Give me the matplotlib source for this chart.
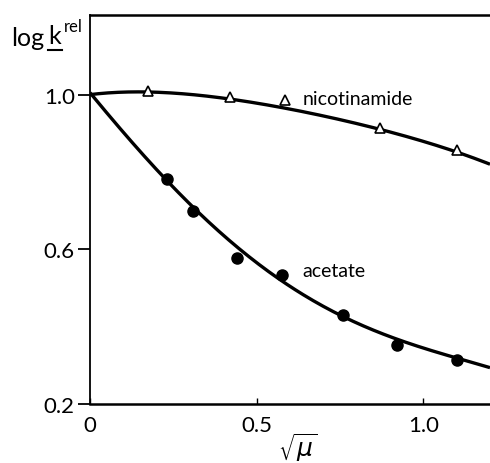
import matplotlib
matplotlib.use("Agg")
import matplotlib.pyplot as plt
import numpy as np
from matplotlib.lines import Line2D

plt.rcParams['font.family'] = ['Lato', 'DejaVu Sans']

# data points
nic_x = [0.175, 0.42, 0.585, 0.871, 1.10]
nic_y = [1.01, 0.995, 0.985, 0.915, 0.858]
ace_x = [0.23, 0.31, 0.44, 0.577, 0.76, 0.92, 1.10]
ace_y = [0.783, 0.698, 0.577, 0.533, 0.430, 0.352, 0.313]

# fitted curves
curve_x = [0.0, 0.1, 0.2, 0.3, 0.4, 0.5, 0.6, 0.7, 0.8, 0.9, 1.0, 1.1, 1.2]
nic_curve = [1.0, 1.007, 1.006, 1.0, 0.992, 0.978, 0.962, 0.945, 0.926, 0.903, 0.879, 0.852, 0.82]
ace_curve = [1.0, 0.91, 0.812, 0.712, 0.630, 0.562, 0.505, 0.458, 0.415, 0.375, 0.340, 0.314, 0.298]

xticks = [0, 0.5, 1.0]
xticklabels = ["0", "0.5", "1.0"]
yticks = [0.2, 0.6, 1.0]
yticklabels = ["0.2", "0.6", "1.0"]

fig = plt.figure(figsize=(4.9, 4.64), dpi=100)
ax = fig.add_axes([90/490, 59/464, 400/490, 389/464])
ax.set_xlim(0, 1.2)
ax.set_ylim(0.2, 1.206)

# smooth the read curve samples
xs = np.linspace(curve_x[0], curve_x[-1], 200)
nic_fit = np.polyval(np.polyfit(curve_x, nic_curve, 4), xs)
ace_fit = np.polyval(np.polyfit(curve_x, ace_curve, 4), xs)
ax.plot(xs, nic_fit, color='black', lw=2.4, solid_capstyle='butt')
ax.plot(xs, ace_fit, color='black', lw=2.4, solid_capstyle='butt')
ax.plot(nic_x, nic_y, linestyle='none', marker='^', markersize=6.5,
        markerfacecolor='white', markeredgecolor='black', markeredgewidth=1.2, zorder=3)
ax.plot(ace_x, ace_y, linestyle='none', marker='o', markersize=8,
        markerfacecolor='black', markeredgecolor='black', zorder=3)

ax.text(0.637, 0.99, "nicotinamide", fontsize=14, va='center', ha='left')
ax.text(0.637, 0.545, "acetate", fontsize=14, va='center', ha='left')

ax.spines['right'].set_visible(False)
ax.spines['left'].set_linewidth(1.3)
ax.spines['top'].set_linewidth(1.8)
ax.spines['bottom'].set_linewidth(1.8)

ax.set_xticks(xticks)
ax.set_xticklabels(xticklabels, fontsize=16)
ax.set_yticks(yticks)
ax.set_yticklabels(yticklabels, fontsize=16)
ax.tick_params(axis='y', direction='out', length=9, width=1.3, pad=2)
ax.tick_params(axis='x', direction='in', length=4, width=1.0, pad=8)

fig.text(11/490, 1 - 38/464, "log", fontsize=18, va='center', ha='left')
fig.text(48/490, 1 - 36/464, "k", fontsize=18, va='center', ha='left')
fig.add_artist(Line2D([48/490, 62/490], [1 - 51/464, 1 - 51/464], color='black', lw=1.5,
                      transform=fig.transFigure))
fig.text(64/490, 1 - 27/464, "rel", fontsize=12, va='center', ha='left')

fig.text(298/490, 1 - 448/464, r"$\sqrt{\mu}$", fontsize=18, va='center', ha='center')

fig.savefig("out.png", dpi=100)
